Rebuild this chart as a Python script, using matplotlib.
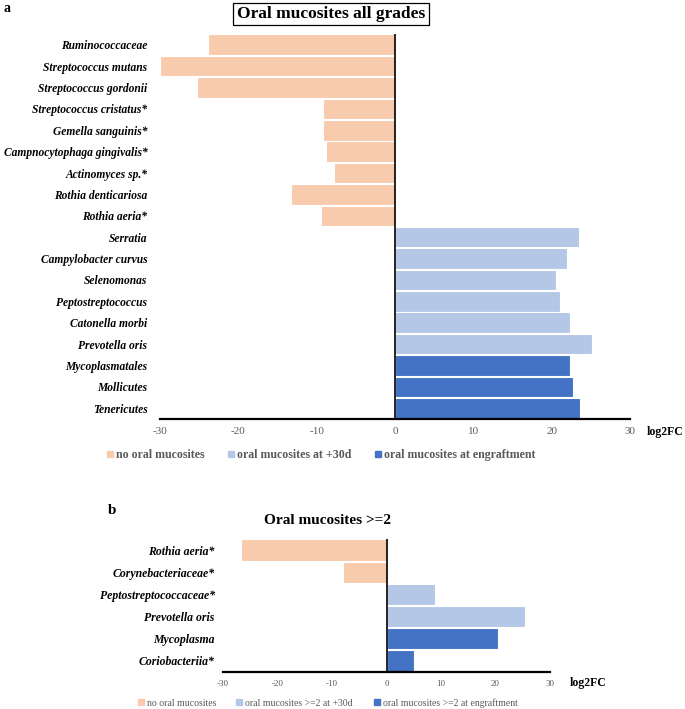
import matplotlib.pyplot as plt
from matplotlib.patches import Rectangle

plt.rcParams['font.family'] = ['Liberation Serif', 'DejaVu Serif']

PEACH = "#F8CBAD"
LIGHT = "#B4C7E7"
DARK = "#4472C4"
GREY = "#595959"

# panel a data
taxa_a = ["Ruminococcaceae", "Streptococcus mutans", "Streptococcus gordonii",
          "Streptococcus cristatus*", "Gemella sanguinis*", "Campnocytophaga gingivalis*",
          "Actinomyces sp.*", "Rothia denticariosa", "Rothia aeria*",
          "Serratia", "Campylobacter curvus", "Selenomonas", "Peptostreptococcus",
          "Catonella morbi", "Prevotella oris", "Mycoplasmatales", "Mollicutes",
          "Tenericutes"]
fc_a = [-23.9, -30.0, -25.3, -9.2, -9.2, -8.8, -7.8, -13.3, -9.4,
        23.5, 21.9, 20.6, 21.1, 22.4, 25.1, 22.3, 22.7, 23.6]
group_a = [0] * 9 + [1] * 6 + [2] * 3
legend_a = ["no oral mucosites", "oral mucosites at +30d", "oral mucosites at engraftment"]

# panel b data
taxa_b = ["Rothia aeria*", "Corynebacteriaceae*", "Peptostreptococcaceae*",
          "Prevotella oris", "Mycoplasma", "Coriobacteriia*"]
fc_b = [-26.7, -8.0, 8.9, 25.4, 20.4, 5.1]
group_b = [0, 0, 1, 1, 2, 2]
legend_b = ["no oral mucosites", "oral mucosites >=2 at +30d", "oral mucosites >=2 at engraftment"]

xticks = [-30, -20, -10, 0, 10, 20, 30]
colors = [PEACH, LIGHT, DARK]

W, H = 685, 709
fig = plt.figure(figsize=(W / 100, H / 100), dpi=100)


def draw(ax, taxa, fc, groups, tick_size, label_size, pad):
    ypos = list(range(len(taxa)))
    ax.barh(ypos, fc, height=0.96, color=[colors[g] for g in groups],
            edgecolor="white", linewidth=0.8)
    ax.set_xlim(-30, 30)
    ax.set_ylim(len(taxa) - 0.5, -0.5)
    ax.axvline(0, color="black", lw=1.2)
    for s in ["top", "right", "left"]:
        ax.spines[s].set_visible(False)
    ax.spines["bottom"].set_linewidth(1.6)
    ax.set_xticks(xticks)
    ax.set_xticklabels([str(t) for t in xticks], color=GREY, fontsize=tick_size)
    ax.tick_params(axis="both", length=0)
    ax.tick_params(axis="x", pad=6)
    ax.set_yticks(ypos)
    ax.set_yticklabels(taxa, fontsize=label_size, fontweight="bold", fontstyle="italic")
    ax.tick_params(axis="y", pad=pad)


def legend_row(labels, xs, y, size, weight):
    # small coloured squares followed by grey text, positioned in pixels
    for c, l, x in zip(colors, labels, xs):
        fig.patches.append(Rectangle(((x - 3) / W, (H - y - 2) / H), 6 / W, 6 / H,
                                     transform=fig.transFigure, color=c))
        fig.text((x + 6) / W, 1 - y / H, l, fontsize=size, fontweight=weight,
                 color=GREY, va="center")


# panel a
ax1 = fig.add_axes([160 / W, 1 - 419 / H, 470 / W, 385 / H])
draw(ax1, taxa_a, fc_a, group_a, 8, 8.3, 9)
fig.text(3 / W, 1 - 8 / H, "a", fontsize=10, fontweight="bold", va="center")
fig.text(331 / W, 1 - 14 / H, "Oral mucosites all grades", fontsize=12.5, fontweight="bold",
         ha="center", va="center",
         bbox=dict(boxstyle="square,pad=0.2", fc="white", ec="black", lw=0.9))
fig.text(647 / W, 1 - 432 / H, "log2FC", fontsize=8.5, fontweight="bold", va="center")
legend_row(legend_a, [110, 231, 378], 455, 8.6, "bold")

# panel b
ax2 = fig.add_axes([223 / W, 1 - 672 / H, 327 / W, 133 / H])
draw(ax2, taxa_b, fc_b, group_b, 6.5, 8.5, 6)
fig.text(108 / W, 1 - 510 / H, "b", fontsize=11, fontweight="bold", va="center")
fig.text(328 / W, 1 - 521 / H, "Oral mucosites >=2", fontsize=11, fontweight="bold",
         ha="center", va="center")
fig.text(570 / W, 1 - 683 / H, "log2FC", fontsize=8.5, fontweight="bold", va="center")
legend_row(legend_b, [141, 239, 377], 703, 7.0, "normal")

fig.savefig("out.png", dpi=100)
